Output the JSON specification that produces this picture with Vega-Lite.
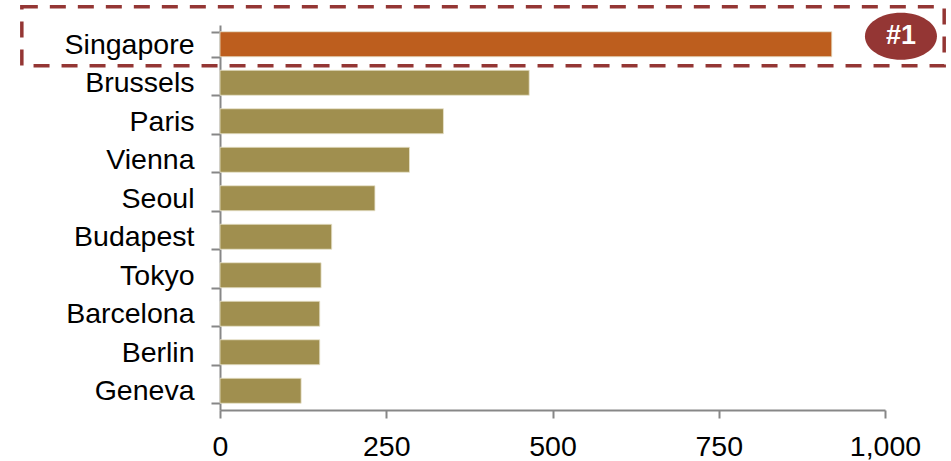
{
  "$schema": "https://vega.github.io/schema/vega-lite/v6.json",
  "width": 665,
  "height": 385,
  "autosize": {"type": "none"},
  "padding": {"left": 220, "top": 25, "right": 66, "bottom": 51},
  "background": "white",
  "config": {
    "view": {"stroke": null},
    "font": "Liberation Sans",
    "axis": {
      "domainColor": "#878787",
      "domainWidth": 2,
      "tickColor": "#878787",
      "tickWidth": 2,
      "grid": false,
      "labelFont": "Liberation Sans",
      "labelColor": "#000000",
      "labelFontSize": 28.5,
      "title": null
    }
  },
  "data": {
    "values": [
      {"city": "Singapore", "value": 920, "rank": 1},
      {"city": "Brussels", "value": 465, "rank": 2},
      {"city": "Paris", "value": 336, "rank": 3},
      {"city": "Vienna", "value": 285, "rank": 4},
      {"city": "Seoul", "value": 233, "rank": 5},
      {"city": "Budapest", "value": 168, "rank": 6},
      {"city": "Tokyo", "value": 152, "rank": 7},
      {"city": "Barcelona", "value": 150, "rank": 8},
      {"city": "Berlin", "value": 150, "rank": 9},
      {"city": "Geneva", "value": 122, "rank": 10}
    ]
  },
  "encoding": {
    "y": {
      "field": "city",
      "type": "nominal",
      "sort": ["Singapore", "Brussels", "Paris", "Vienna", "Seoul", "Budapest", "Tokyo", "Barcelona", "Berlin", "Geneva"],
      "scale": {"paddingInner": 0.35, "paddingOuter": 0.175},
      "axis": {"tickBand": "extent", "tickSize": 9, "labelPadding": 17}
    }
  },
  "layer": [
    {
      "mark": {"type": "bar", "stroke": "#e9e3cc", "strokeWidth": 0.8},
      "encoding": {
        "x": {
          "field": "value",
          "type": "quantitative",
          "scale": {"domain": [0, 1000], "nice": false},
          "axis": {"values": [0, 250, 500, 750, 1000], "format": ",.0f", "tickSize": 8, "labelPadding": 14, "labelFlush": false}
        },
        "color": {
          "condition": {"test": "datum.rank == 1", "value": "#bd5e1e"},
          "value": "#a08f4f"
        }
      }
    },
    {
      "transform": [{"filter": "datum.rank == 1"}],
      "mark": {
        "type": "rect",
        "fill": null,
        "stroke": "#943634",
        "strokeWidth": 3.5,
        "strokeDash": [16, 12],
        "clip": false,
        "height": 59,
        "yOffset": -8
      },
      "encoding": {
        "x": {"datum": -298, "type": "quantitative"},
        "x2": {"datum": 1089}
      }
    },
    {
      "transform": [{"filter": "datum.rank == 1"}],
      "mark": {
        "type": "point",
        "filled": true,
        "color": "#943634",
        "opacity": 1,
        "size": 5184,
        "shape": "M -1 0 A 1 0.653 0 1 1 1 0 A 1 0.653 0 1 1 -1 0 Z",
        "clip": false,
        "yOffset": -8
      },
      "encoding": {
        "x": {"datum": 1024, "type": "quantitative"}
      }
    },
    {
      "transform": [{"filter": "datum.rank == 1"}],
      "mark": {
        "type": "text",
        "text": "#1",
        "color": "white",
        "font": "Liberation Sans",
        "fontWeight": "bold",
        "fontSize": 27,
        "align": "center",
        "baseline": "middle",
        "clip": false,
        "yOffset": -8
      },
      "encoding": {
        "x": {"datum": 1024, "type": "quantitative"}
      }
    }
  ]
}
